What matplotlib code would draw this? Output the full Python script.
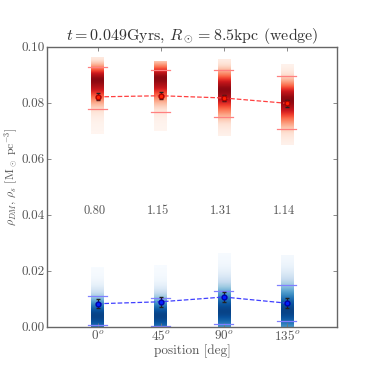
import numpy as np
import matplotlib
matplotlib.use("Agg")
import matplotlib.pyplot as plt

plt.rcParams['font.family'] = 'serif'
plt.rcParams['font.serif'] = ['cmr10', 'DejaVu Serif']
plt.rcParams['mathtext.fontset'] = 'cm'
plt.rcParams['axes.formatter.use_mathtext'] = True

# ---- data ----
positions = ['$0^o$', '$45^o$', '$90^o$', '$135^o$']
ratios = ['0.80', '1.15', '1.31', '1.14']

# dark matter (red)
dm_val = [0.0821, 0.0825, 0.0817, 0.0798]
dm_err = [0.0012, 0.0012, 0.0012, 0.0012]
dm_lo_line = [0.0777, 0.0768, 0.0749, 0.0706]
dm_hi_line = [0.0929, 0.0917, 0.0917, 0.0896]
dm_band_lo = [0.0689, 0.0698, 0.0682, 0.0648]
dm_band_hi = [0.0962, 0.0945, 0.0954, 0.0936]
dm_peak = [0.0882, 0.0885, 0.0845, 0.0810]
dm_sig_up = [0.0035, 0.0035, 0.0045, 0.0045]
dm_sig_dn = [0.0055, 0.0055, 0.0060, 0.0060]

# stars (blue)
st_val = [0.0082, 0.0089, 0.0106, 0.0084]
st_err = [0.0017, 0.0017, 0.0017, 0.0017]
st_lo_line = [0.0006, 0.0004, 0.0010, 0.0019]
st_hi_line = [0.0110, 0.0102, 0.0126, 0.0150]
st_band_lo = [0.0, 0.0, 0.0, 0.0]
st_band_hi = [0.0212, 0.0220, 0.0262, 0.0254]
st_peak = [0.0040, 0.0040, 0.0055, 0.0055]
st_sig_up = [0.0050, 0.0050, 0.0065, 0.0070]
st_sig_dn = [0.0060, 0.0060, 0.0060, 0.0060]

x = np.arange(len(positions))

fig = plt.figure(figsize=(3.74, 3.74), dpi=100)
ax = fig.add_axes([0.1265, 0.1265, 0.7755, 0.7485])

def band(ax, xi, lo, hi, peak, su, sd, cmap):
    y = np.linspace(lo, hi, 200)
    d = np.where(y >= peak, np.exp(-0.5 * ((y - peak) / su) ** 2),
                 np.exp(-0.5 * ((y - peak) / sd) ** 2))
    ax.imshow(d[:, None], extent=[xi - 0.1, xi + 0.1, lo, hi], origin='lower',
              cmap=cmap, vmin=0, vmax=1.08, aspect='auto', zorder=1,
              interpolation='bilinear')

for i in range(len(x)):
    band(ax, x[i], dm_band_lo[i], dm_band_hi[i], dm_peak[i], dm_sig_up[i], dm_sig_dn[i], 'Reds')
    band(ax, x[i], st_band_lo[i], st_band_hi[i], st_peak[i], st_sig_up[i], st_sig_dn[i], 'Blues')
    for v in (dm_lo_line[i], dm_hi_line[i]):
        ax.plot([x[i] - 0.15, x[i] + 0.15], [v, v], color='#ff8080', lw=0.9, zorder=2)
    for v in (st_lo_line[i], st_hi_line[i]):
        ax.plot([x[i] - 0.15, x[i] + 0.15], [v, v], color='#8080ff', lw=0.9, zorder=2)
    ax.text(x[i] - 0.05, 0.0415, ratios[i], ha='center', va='center',
            fontsize=9, color='#555555')

ax.plot(x, dm_val, ls='--', color='#ff4040', lw=0.9, zorder=3)
ax.plot(x, st_val, ls='--', color='#4040ff', lw=0.9, zorder=3)
ax.errorbar(x, dm_val, yerr=dm_err, fmt='o', color='#ff2000', mec='#aa0000',
            ms=3.5, ecolor='#222222', elinewidth=0.8, capsize=1.5, zorder=4)
ax.errorbar(x, st_val, yerr=st_err, fmt='o', color='#0020ff', mec='#0000aa',
            ms=3.5, ecolor='#222222', elinewidth=0.8, capsize=1.5, zorder=4)

ax.set_xlim(-0.8, 3.8)
ax.set_ylim(0, 0.1)
ax.set_xticks(x)
ax.set_xticklabels(positions)
yt = [0.0, 0.02, 0.04, 0.06, 0.08, 0.10]
ax.set_yticks(yt)
ax.set_yticklabels(['%.2f' % v for v in yt])
ax.tick_params(direction='in', top=True, right=True, length=3, width=0.6,
               colors='#777777', labelcolor='#555555', labelsize=9.5, pad=2)
for s in ax.spines.values():
    s.set_color('#666666')
    s.set_linewidth(1.0)

ax.set_xlabel('position [deg]', fontsize=9.5, color='#555555', labelpad=1)
ax.set_ylabel(r'$\rho_{DM},\,\rho_s\ [\mathrm{M}_\odot\ \mathrm{pc}^{-3}]$',
              fontsize=8.5, color='#555555')
ax.yaxis.set_label_coords(-0.095, 0.535)
ax.set_title(r'$t=0.049$Gyrs, $R_\odot=8.5$kpc (wedge)', fontsize=11.5,
             color='#333333', pad=5)

fig.savefig('out.png', dpi=100)
